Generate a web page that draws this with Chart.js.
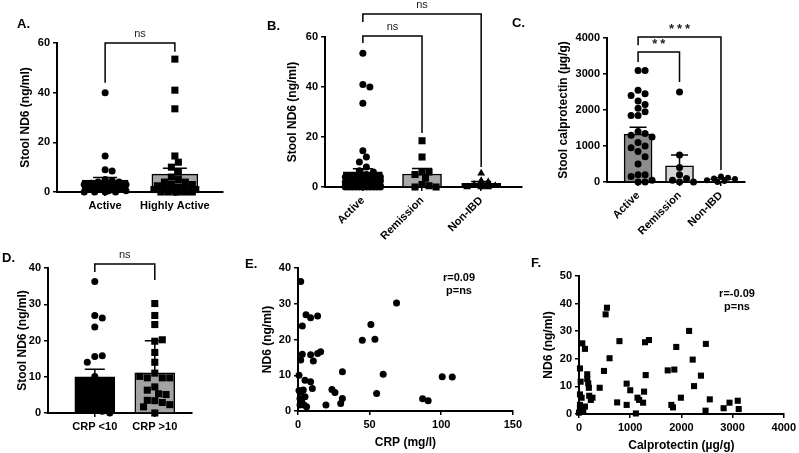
<!DOCTYPE html>
<html>
<head>
<meta charset="utf-8">
<script src="https://cdn.jsdelivr.net/npm/chart.js@4.4.1/dist/chart.umd.min.js"></script>
<style>
  body { margin: 0; background: #fff; }
  #wrap { position: relative; width: 799px; height: 453px; overflow: hidden; font-family: "Liberation Sans", Arial, sans-serif; color: #000; }
  canvas { position: absolute; }
  .tag { position: absolute; font-weight: bold; font-size: 13px; }
  .note { position: absolute; font-weight: bold; font-size: 11px; line-height: 13px; text-align: center; transform: translateX(-50%); white-space: nowrap; }
</style>
</head>
<body>
<div id="wrap">
  <canvas id="cA" width="228" height="225" style="left:0;top:0"></canvas>
  <canvas id="cB" width="282" height="240" style="left:245px;top:0"></canvas>
  <canvas id="cC" width="215" height="240" style="left:540px;top:0"></canvas>
  <canvas id="cD" width="200" height="215" style="left:0;top:228px"></canvas>
  <canvas id="cE" width="320" height="225" style="left:205px;top:228px"></canvas>
  <canvas id="cF" width="264" height="225" style="left:535px;top:228px"></canvas>
  <div class="tag" style="left:17px;top:16px">A.</div>
  <div class="tag" style="left:267px;top:18px">B.</div>
  <div class="tag" style="left:512px;top:15px">C.</div>
  <div class="tag" style="left:2px;top:250px">D.</div>
  <div class="tag" style="left:245px;top:256px">E.</div>
  <div class="tag" style="left:531px;top:255px">F.</div>
  <div class="note" style="left:459px;top:271px">r=0.09<br>p=ns</div>
  <div class="note" style="left:737px;top:287px">r=-0.09<br>p=ns</div>
</div>
<script>
// ---- panel A: ND6 by disease activity
const aCats = ['Active', 'Highly Active'];
const aActive = [40, 14.5, 9, 8.5, 5, 4.5, 4, 4, 3.5, 3, 3, 2.5, 2, 2, 1.5, 1, 1, 0.5, 0.5, 0, 0, 0, 0];
const aHigh = [53.5, 41, 33.5, 14.5, 12, 10, 8, 6, 5, 4, 4, 3, 3, 2.5, 2, 2, 1.5, 1, 1, 1, 0.5, 0.5, 0, 0, 0, 0, 0, 0];
const aMeans = [4.8, 7.2];
const aErr = [5.8, 9.6];

// ---- panel B: ND6 by group
const bCats = ['Active', 'Remission', 'Non-IBD'];
const bActive = [53.5, 41, 40, 33.5, 14.5, 12, 10, 8, 6.5, 6, 5, 4.5, 4, 4, 3.5, 3, 3, 3, 2.5, 2.5, 2, 2, 2, 1.5, 1.5, 1, 1, 1, 1, 0.5, 0.5, 0.5, 0.5, 0.5, 0, 0, 0, 0, 0, 0, 0, 0, 0, 0, 0];
const bRemission = [18.5, 12, 6, 6, 5, 3.5, 1, 0.5, 0, 0];
const bNonIBD = [5.5, 2.5, 2, 1, 0.5, 0, 0, 0];
const bMeans = [6.1, 5.2, 1.5];
const bErr = [7.3, 7.4, 2.2];

// ---- panel C: calprotectin by group
const cCats = ['Active', 'Remission', 'Non-IBD'];
const cActive = [3100, 3100, 2550, 2450, 2400, 2250, 2150, 2050, 1950, 1850, 1850, 1400, 1350, 1300, 1250, 1100, 1000, 950, 850, 700, 500, 200, 200, 150, 50, 0, 0];
const cRemission = [2500, 750, 400, 200, 100, 50, 0, 0];
const cNonIBD = [150, 120, 100, 80, 50, 30, 0];
const cMeans = [1330, 450, 90];
const cErr = [1520, 750, 120];

// ---- panel D: ND6 by CRP
const dCats = ['CRP <10', 'CRP >10'];
const dLow = [36.3, 26.9, 26.2, 23.7, 15.6, 15.8, 14, 10.1, 9, 8, 6, 5.5, 5, 4, 3.5, 3, 2.5, 2, 1.5, 1, 0.5, 0];
const dHigh = [30.2, 26.9, 24.4, 19.8, 20.2, 16.7, 14, 11, 9.7, 9.7, 9.7, 10.1, 7.2, 5.3, 6.3, 5.1, 3.4, 2.9, 3.5, 2.3, 1.7, 0];
const dMeans = [10, 11.1];
const dErr = [12.1, 19.9];

// ---- panel E: ND6 vs CRP
const eCRP = [1.9, 3, 5.6, 8.8, 13.7, 3, 1.9, 8.8, 10.7, 13.7, 15.8, 0.7, 4.9, 8.8, 10, 0.7, 3.7, 4.9, 1.4, 2.6, 4.2, 6, 2, 1.4, 19.5, 23.7, 25.8, 31, 31, 29.8, 44.9, 50.9, 53.7, 54.9, 59.5, 68.8, 87, 90.9, 100.7, 107.7];
const eND6 = [36.2, 23.8, 26.9, 26.1, 26.6, 15.9, 14.3, 15.7, 14, 16.1, 16.6, 10, 8.6, 8.2, 6.3, 5.7, 5.9, 4, 3.5, 2.6, 1.7, 1.2, 5.4, 1.7, 1.7, 6, 5.2, 11, 3.5, 2.1, 19.8, 24.2, 20.1, 4.9, 10.3, 30.2, 3.4, 2.9, 9.6, 9.5];

// ---- panel F: ND6 vs calprotectin
const fCal = [0, 19, 32, 19, 51, 19, 19, 51, 64, 116, 161, 161, 180, 193, 199, 231, 263, 116, 83, 404, 488, 520, 546, 597, 745, 790, 931, 931, 1001, 1143, 1175, 1111, 1271, 1252, 1290, 1367, 1303, 1733, 1862, 1804, 1836, 1900, 1990, 2151, 2221, 2247, 2382, 2478, 2472, 2555, 2825, 2940, 3101, 3120];
const fND6 = [0.5, 16.5, 11.7, 7.1, 5.9, 3.3, 2.1, 0.8, 25.6, 23.6, 14.4, 12.7, 11.1, 9.5, 6.6, 5.1, 5.9, 2.7, 0.8, 9.5, 15.6, 36.1, 38.5, 20.2, 4.2, 26.4, 3.3, 11, 8.6, 5.9, 5.1, 0.2, 8.1, 4.1, 26, 26.8, 14.1, 15.8, 16.1, 3.3, 2.4, 24.3, 5.9, 30.1, 19.7, 10.1, 13.9, 25.4, 1.2, 5.3, 2.1, 4.1, 4.8, 1.8];

Chart.defaults.font.family = '"Liberation Sans", Arial, sans-serif';
Chart.defaults.color = '#000';
Chart.defaults.animation = false;
Chart.defaults.responsive = false;
Chart.defaults.events = [];
Chart.defaults.plugins.legend.display = false;
Chart.defaults.plugins.tooltip.enabled = false;

const tickFont = { size: 11, weight: 'bold' };
const titleFont = { size: 12, weight: 'bold' };
const border = { color: '#000', width: 2 };
const grid = { drawOnChartArea: false, color: '#000', lineWidth: 1.5, tickLength: 4, offset: false };
const plain = v => String(v);   // no thousands separator

// spread the dots sideways so they don't sit on top of each other (layout only)
function swarm(vals, cat, pxY, pxX, diam, half) {
  const placed = [];
  return vals.map(v => {
    const y = v * pxY;
    let best = 0, bestD = -1;
    for (let k = 0; k < 60; k++) {
      const off = (k % 2 ? 1 : -1) * Math.ceil(k / 2) * diam * 0.5;
      if (Math.abs(off) > half) continue;
      let dmin = Infinity;
      placed.forEach(p => { dmin = Math.min(dmin, Math.hypot(p[0] - off, p[1] - y)); });
      if (dmin >= diam) { best = off; break; }
      if (dmin > bestD) { bestD = dmin; best = off; }
    }
    placed.push([best, y]);
    return { x: cat + best / pxX, y: v };
  });
}

// error bars, brackets and significance labels
function marks(means, err, cap, brackets) {
  return {
    id: 'marks',
    afterDatasetsDraw(chart) {
      const { ctx, scales: { x, y } } = chart;
      ctx.save();
      ctx.strokeStyle = '#000';
      ctx.lineWidth = 1.5;
      err.forEach((e, i) => {
        const px = x.getPixelForValue(i), top = y.getPixelForValue(e);
        ctx.beginPath();
        ctx.moveTo(px, y.getPixelForValue(means[i]));
        ctx.lineTo(px, top);
        ctx.moveTo(px - cap, top);
        ctx.lineTo(px + cap, top);
        ctx.stroke();
      });
      brackets.forEach(b => {
        const x1 = x.getPixelForValue(b.from), x2 = x.getPixelForValue(b.to), yt = y.getPixelForValue(b.top);
        ctx.beginPath();
        ctx.moveTo(x1, y.getPixelForValue(b.left));
        ctx.lineTo(x1, yt);
        ctx.lineTo(x2, yt);
        ctx.lineTo(x2, y.getPixelForValue(b.right));
        ctx.stroke();
        ctx.fillStyle = '#222';
        ctx.font = b.star ? 'bold 13px "Liberation Sans", Arial' : '11px "Liberation Sans", Arial';
        ctx.letterSpacing = b.star ? '3px' : '0px';
        ctx.textAlign = 'center';
        ctx.textBaseline = 'bottom';
        ctx.fillText(b.text, (x1 + x2) / 2 + (b.star ? 1.5 : 0), yt - (b.star ? 1 : 4));
      });
      ctx.restore();
    }
  };
}

function yAxis(max, step, title, width, tpad) {
  return {
    min: 0, max: max, border: border, grid: grid,
    ticks: { stepSize: step, font: tickFont, color: '#000', padding: 3, callback: plain },
    title: { display: true, text: title, font: titleFont, color: '#000', padding: { top: tpad, bottom: 0 } },
    afterFit: s => { s.width = width; }
  };
}

function catAxis(cats, min, max, height, rot) {
  return {
    type: 'linear', min: min, max: max, offset: false, border: border, grid: grid,
    ticks: { autoSkip: false, minRotation: rot, maxRotation: rot, padding: 3, font: tickFont, color: '#000',
      callback: v => (cats[v] !== undefined ? cats[v] : '') },
    afterBuildTicks: s => { s.ticks = cats.map((c, i) => ({ value: i })); },
    afterFit: s => { s.height = height; }
  };
}

function dotChart(id, c) {
  const sets = c.groups.map((vals, i) => ({
    type: 'scatter',
    data: swarm(vals, i, c.pxY, c.pxX, c.diam, c.half),
    pointStyle: c.styles[i],
    pointRadius: c.radius[i],
    pointBackgroundColor: '#000',
    pointBorderColor: '#000',
    pointBorderWidth: 0,
    clip: false,
    order: 1
  }));
  sets.unshift({
    type: 'bar',
    data: c.means.map((m, i) => ({ x: i, y: m })),
    backgroundColor: c.fills,
    borderColor: '#000',
    borderWidth: 1.5,
    barThickness: c.barW,
    order: 2
  });
  new Chart(document.getElementById(id), {
    type: 'bar',
    data: { datasets: sets },
    options: {
      layout: { padding: { top: c.top, right: c.right, left: 0, bottom: 0 } },
      scales: {
        x: catAxis(c.cats, c.xmin, c.xmax, c.xh, c.rot),
        y: yAxis(c.ymax, c.step, c.title, c.yw, c.tpad)
      }
    },
    plugins: [marks(c.means, c.err, c.cap, c.brackets)]
  });
}

dotChart('cA', {
  cats: aCats, groups: [aActive, aHigh], means: aMeans, err: aErr,
  styles: ['circle', 'rect'], radius: [3.5, 5], fills: ['#000', '#a6a6a6'], barW: 46, cap: 12,
  pxY: 2.483, pxX: 70, diam: 7, half: 21,
  xmin: -0.69, xmax: 1.69, ymax: 60, step: 20, title: 'Stool ND6 (ng/ml)',
  top: 43, right: 5, xh: 33, yw: 57, tpad: 18, rot: 0,
  brackets: [{ from: 0, to: 1, top: 60, left: 44, right: 56.5, text: 'ns' }]
});

dotChart('cB', {
  cats: bCats, groups: [bActive, bRemission, bNonIBD], means: bMeans, err: bErr,
  styles: ['circle', 'rect', 'triangle'], radius: [3.5, 5, 4.5], fills: ['#000', '#a9a9a9', '#000'], barW: 39, cap: 10,
  pxY: 2.5, pxX: 59, diam: 7, half: 18,
  xmin: -0.64, xmax: 2.69, ymax: 60, step: 20, title: 'Stool ND6 (ng/ml)',
  top: 37, right: 5, xh: 53, yw: 80, tpad: 40, rot: 45,
  brackets: [
    { from: 0, to: 2, top: 69.2, left: 66, right: 8, text: 'ns' },
    { from: 0, to: 1, top: 60.4, left: 57.6, right: 21.6, text: 'ns' }
  ]
});

dotChart('cC', {
  cats: cCats, groups: [cActive, cRemission, cNonIBD], means: cMeans, err: cErr,
  styles: ['circle', 'circle', 'circle'], radius: [3.5, 3.5, 3], fills: ['#8c8c8c', '#d4d4d4', '#fff'], barW: 28, cap: 8.5,
  pxY: 0.036, pxX: 41.5, diam: 7, half: 14,
  xmin: -0.75, xmax: 2.58, ymax: 4000, step: 1000, title: 'Stool calprotectin (µg/g)',
  top: 38, right: 10, xh: 58, yw: 67, tpad: 16, rot: 45,
  brackets: [
    { from: 0, to: 2, top: 4028, left: 3800, right: 330, text: '***', star: true },
    { from: 0, to: 1, top: 3611, left: 3333, right: 2778, text: '**', star: true }
  ]
});

dotChart('cD', {
  cats: dCats, groups: [dLow, dHigh], means: dMeans, err: dErr,
  styles: ['circle', 'rect'], radius: [3.5, 5], fills: ['#000', '#a3a3a3'], barW: 40, cap: 10,
  pxY: 3.625, pxX: 60, diam: 7.5, half: 19,
  xmin: -0.78, xmax: 1.62, ymax: 40, step: 10, title: 'Stool ND6 (ng/ml)',
  top: 40, right: 8, xh: 30, yw: 48, tpad: 15, rot: 0,
  brackets: [{ from: 0, to: 1, top: 41.1, left: 38.9, right: 36.7, text: 'ns' }]
});

function xyChart(id, c) {
  new Chart(document.getElementById(id), {
    type: 'scatter',
    data: { datasets: [{
      data: c.xs.map((v, i) => ({ x: v, y: c.ys[i] })),
      pointStyle: c.style, pointRadius: c.radius,
      pointBackgroundColor: '#000', pointBorderColor: '#000', pointBorderWidth: 0, clip: false
    }] },
    options: {
      layout: { padding: { top: c.top, right: c.right, left: 0, bottom: 0 } },
      scales: {
        x: {
          min: 0, max: c.xmax, border: border, grid: grid,
          ticks: { stepSize: c.xstep, font: tickFont, color: '#000', padding: 3, maxRotation: 0, callback: plain },
          title: { display: true, text: c.xtitle, font: titleFont, color: '#000', padding: { top: 0, bottom: c.bpad } },
          afterFit: s => { s.height = c.xh; }
        },
        y: yAxis(c.ymax, 10, c.ytitle, c.yw, c.tpad)
      }
    }
  });
}

xyChart('cE', {
  xs: eCRP, ys: eND6, style: 'circle', radius: 3.5,
  xmax: 150, xstep: 50, ymax: 40, xtitle: 'CRP (mg/l)', ytitle: 'ND6 (ng/ml)',
  top: 40, right: 12, xh: 42, yw: 93, tpad: 55, bpad: 3
});

xyChart('cF', {
  xs: fCal, ys: fND6, style: 'rect', radius: 4.3,
  xmax: 4000, xstep: 1000, ymax: 50, xtitle: 'Calprotectin (µg/g)', ytitle: 'ND6 (ng/ml)',
  top: 48, right: 12, xh: 39, yw: 44, tpad: 6, bpad: 0
});
</script>
</body>
</html>
